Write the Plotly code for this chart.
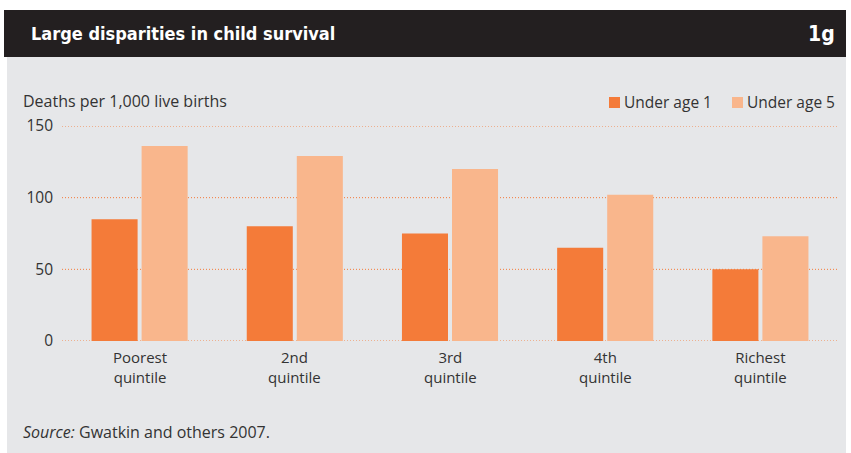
import plotly.graph_objects as go

categories = ["Poorest", "2nd", "3rd", "4th", "Richest"]
category_line2 = ["quintile", "quintile", "quintile", "quintile", "quintile"]
under_age_1 = [85, 80, 75, 65, 50]
under_age_5 = [136, 129, 120, 102, 73]
y_ticks = [0, 50, 100, 150]
series_names = ["Under age 1", "Under age 5"]

W, H = 851, 453
L, R, T, B = 62, 838, 126, 341
C1 = "#f47b39"
C5 = "#f9b68c"
TXT = "#333333"
FONT = "Open Sans, Liberation Sans, Arial, sans-serif"
TFONT = "DejaVu Sans Condensed, Liberation Sans Narrow, sans-serif"


def px(x):
    return (x - L) / (R - L)


def py(y):
    return (B - y) / (B - T)


fig = go.Figure()
fig.add_trace(go.Bar(x=categories, y=under_age_1, name=series_names[0], marker_color=C1, marker_line_width=0))
fig.add_trace(go.Bar(x=categories, y=under_age_5, name=series_names[1], marker_color=C5, marker_line_width=0))

shapes = [
    dict(type="rect", xref="paper", yref="paper", x0=px(7), x1=px(846), y0=py(453), y1=py(57),
         fillcolor="#e6e7e9", line_width=0, layer="below"),
    dict(type="rect", xref="paper", yref="paper", x0=px(4), x1=px(846), y0=py(57), y1=py(10),
         fillcolor="#231f20", line_width=0, layer="below"),
]
for v in y_ticks:
    shapes.append(dict(type="line", xref="paper", yref="y", x0=0, x1=1, y0=v, y1=v,
                       line=dict(color=C1, width=1, dash="1px,2px"), layer="below"))

# legend drawn manually
for x0, c in [(609, C1), (732, C5)]:
    shapes.append(dict(type="rect", xref="paper", yref="paper", x0=px(x0), x1=px(x0 + 11),
                       y0=py(108), y1=py(97), fillcolor=c, line_width=0))

annotations = [
    dict(text="<b>Large disparities in child survival</b>", xref="paper", yref="paper",
         x=px(29), y=py(34), xanchor="left", yanchor="middle", showarrow=False,
         font=dict(family=TFONT, size=18, color="white")),
    dict(text="<b>1g</b>", xref="paper", yref="paper",
         x=px(837), y=py(34), xanchor="right", yanchor="middle", showarrow=False,
         font=dict(family=TFONT, size=21, color="white")),
    dict(text="Deaths per 1,000 live births", xref="paper", yref="paper",
         x=px(21), y=py(101), xanchor="left", yanchor="middle", showarrow=False,
         font=dict(family=FONT, size=16, color=TXT)),
    dict(text="<i>Source:</i> Gwatkin and others 2007.", xref="paper", yref="paper",
         x=px(21), y=py(432), xanchor="left", yanchor="middle", showarrow=False,
         font=dict(family=FONT, size=16, color=TXT)),
    dict(text=series_names[0], xref="paper", yref="paper",
         x=px(622), y=py(102), xanchor="left", yanchor="middle", showarrow=False,
         font=dict(family=FONT, size=15.5, color=TXT)),
    dict(text=series_names[1], xref="paper", yref="paper",
         x=px(745), y=py(102), xanchor="left", yanchor="middle", showarrow=False,
         font=dict(family=FONT, size=15.5, color=TXT)),
]
for cat, l2 in zip(categories, category_line2):
    annotations.append(dict(text=f"{cat}<br>{l2}", xref="x", yref="paper", x=cat, y=py(367),
                            xanchor="center", yanchor="middle", showarrow=False, align="center",
                            font=dict(family=FONT, size=15, color=TXT)))

fig.update_layout(
    width=W, height=H,
    margin=dict(l=L, r=W - R, t=T, b=H - B, pad=0),
    paper_bgcolor="white",
    plot_bgcolor="rgba(0,0,0,0)",
    barmode="group",
    bargap=0.355,
    bargroupgap=0.08,
    shapes=shapes,
    annotations=annotations,
    showlegend=False,
    font=dict(family=FONT, size=15, color=TXT),
    xaxis=dict(showgrid=False, zeroline=False, showline=False, ticks="", showticklabels=False),
    yaxis=dict(range=[0, 150], tickvals=y_ticks, showgrid=False, zeroline=False, showline=False,
               ticks="", tickfont=dict(family=FONT, size=15.5, color=TXT), ticklabelstandoff=8),
)

fig.write_html("out.html", config={"displayModeBar": False},
               post_script="document.body.style.margin='0';document.body.style.overflow='hidden';")
